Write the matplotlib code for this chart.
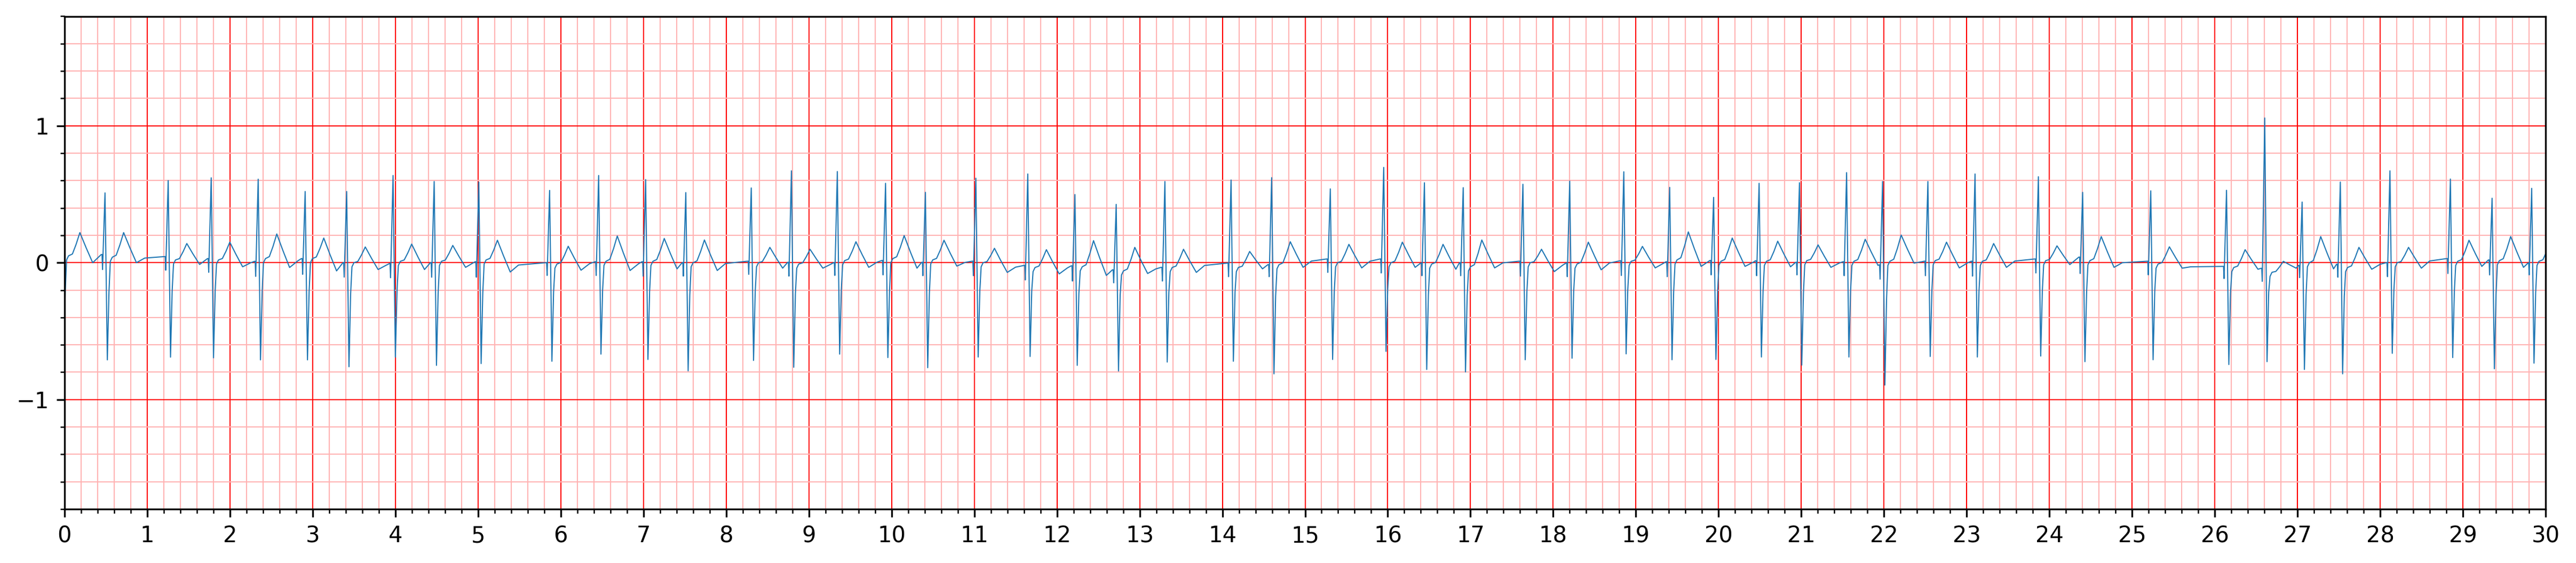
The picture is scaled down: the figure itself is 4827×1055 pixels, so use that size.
import matplotlib
matplotlib.use('Agg')
import matplotlib.pyplot as plt
import numpy as np
from matplotlib.ticker import AutoMinorLocator, MultipleLocator

# one entry per heartbeat (seconds / mV)
r_times = [-0.04, 0.489, 1.253, 1.773, 2.341, 2.909, 3.411, 3.972, 4.469, 5.009,
           5.865, 6.458, 7.026, 7.512, 8.303, 8.789, 9.344, 9.927, 10.409, 11.019,
           11.647, 12.217, 12.716, 13.305, 14.105, 14.596, 15.305, 15.951, 16.443, 16.912,
           17.634, 18.2, 18.854, 19.409, 19.94, 20.49, 20.978, 21.548, 21.983, 22.531,
           23.101, 23.867, 24.402, 25.226, 26.142, 26.604, 27.056, 27.518, 28.118, 28.849,
           29.353, 29.832]
r_amps = [0.5, 0.51, 0.60, 0.62, 0.61, 0.52, 0.52, 0.637, 0.593, 0.589,
          0.528, 0.637, 0.607, 0.512, 0.546, 0.671, 0.666, 0.58, 0.514, 0.617,
          0.648, 0.498, 0.426, 0.593, 0.604, 0.621, 0.539, 0.696, 0.584, 0.548,
          0.573, 0.596, 0.664, 0.55, 0.477, 0.58, 0.584, 0.658, 0.593, 0.593,
          0.648, 0.628, 0.514, 0.525, 0.529, 1.057, 0.443, 0.589, 0.671, 0.611,
          0.471, 0.543]
q_amps = [-0.05, -0.05, -0.055, -0.07, -0.10, -0.085, -0.105, -0.11, -0.106, -0.106,
          -0.093, -0.093, -0.098, -0.098, -0.085, -0.098, -0.093, -0.089, -0.095, -0.095,
          -0.126, -0.134, -0.147, -0.134, -0.102, -0.102, -0.071, -0.075, -0.095, -0.095,
          -0.098, -0.102, -0.093, -0.102, -0.089, -0.095, -0.089, -0.095, -0.12, -0.095,
          -0.098, -0.075, -0.079, -0.089, -0.116, -0.136, -0.109, -0.106, -0.102, -0.079,
          -0.089, -0.089]
s_amps = [-0.72, -0.71, -0.69, -0.695, -0.71, -0.71, -0.76, -0.69, -0.75, -0.737,
          -0.72, -0.668, -0.707, -0.79, -0.714, -0.764, -0.668, -0.693, -0.767, -0.689,
          -0.685, -0.75, -0.791, -0.726, -0.72, -0.812, -0.707, -0.648, -0.78, -0.798,
          -0.709, -0.698, -0.666, -0.709, -0.707, -0.689, -0.748, -0.689, -0.894, -0.685,
          -0.689, -0.682, -0.723, -0.709, -0.744, -0.723, -0.78, -0.812, -0.662, -0.693,
          -0.775, -0.734]
t_amps = [0.22, 0.22, 0.14, 0.15, 0.21, 0.18, 0.115, 0.136, 0.126, 0.164,
          0.12, 0.195, 0.177, 0.166, 0.112, 0.098, 0.153, 0.198, 0.164, 0.105,
          0.095, 0.161, 0.112, 0.098, 0.082, 0.153, 0.134, 0.15, 0.134, 0.166,
          0.098, 0.15, 0.119, 0.225, 0.18, 0.157, 0.13, 0.171, 0.202, 0.15,
          0.14, 0.123, 0.191, 0.116, 0.095, 0.01, 0.191, 0.112, 0.112, 0.164,
          0.191, 0.15]
st_levels = [0.05, 0.04, 0.02, 0.02, 0.03, 0.03, 0.0, 0.01, 0.01, 0.02,
             -0.01, 0.01, 0.01, 0.0, 0.0, -0.01, 0.015, 0.03, 0.02, 0.0,
             -0.035, -0.03, -0.06, -0.035, -0.035, -0.015, 0.0, 0.0, -0.01, -0.03,
             0.0, -0.01, 0.01, 0.02, 0.01, 0.01, 0.015, 0.01, 0.01, 0.015,
             0.01, 0.015, 0.015, -0.01, -0.035, -0.07, 0.0, -0.035, 0.0, 0.01,
             0.015, 0.01]
tend_levels = [0.0, 0.0, -0.013, -0.03, -0.035, -0.06, -0.05, -0.05, -0.034, -0.068,
               -0.055, -0.057, -0.045, -0.057, -0.04, -0.04, -0.034, -0.04, -0.025, -0.071,
               -0.082, -0.093, -0.079, -0.071, -0.045, -0.034, -0.038, -0.034, -0.048, -0.038,
               -0.065, -0.052, -0.038, -0.027, -0.027, -0.03, -0.034, -0.02, -0.003, -0.038,
               -0.034, -0.014, -0.034, -0.04, -0.048, -0.04, -0.045, -0.048, -0.04, -0.027,
               -0.034, -0.03]
pre_levels = [0.05, 0.06, 0.045, 0.03, 0.01, 0.03, 0.0, -0.007, 0.0, 0.007,
              0.0, 0.007, 0.007, 0.0, 0.011, 0.003, 0.0, 0.016, 0.003, 0.011,
              -0.02, -0.023, -0.052, -0.034, -0.003, -0.014, 0.027, 0.027, -0.003, 0.0,
              0.011, -0.003, 0.014, 0.007, 0.016, 0.014, 0.003, 0.007, -0.016, 0.011,
              0.011, 0.027, 0.041, 0.011, -0.027, -0.041, -0.02, -0.011, 0.0, 0.03,
              0.02, -0.003]

# build the trace beat by beat
xs, ys = [], []
for i, tr in enumerate(r_times):
    pre, q, r, s = pre_levels[i], q_amps[i], r_amps[i], s_amps[i]
    st, tw, te = st_levels[i], t_amps[i], tend_levels[i]
    pts = [(-0.045, pre), (-0.036, pre), (-0.030, q), (0.0, r), (0.028, s),
           (0.048, 0.3 * s), (0.064, st - 0.03), (0.088, st), (0.135, st + 0.08 * (tw - st)),
           (0.18, st + 0.5 * (tw - st)), (0.225, tw), (0.30, te + 0.5 * (tw - te)), (0.38, te)]
    for dt, v in pts:
        xs.append(tr + dt)
        ys.append(v)
    if i + 1 < len(r_times):
        nxt = r_times[i + 1] - 0.045
        if tr + 0.48 < nxt - 0.02:
            xs.append(tr + 0.48)
            ys.append(te + 0.75 * (pre_levels[i + 1] - te))

xs = np.array(xs)
ys = np.array(ys)
seconds = 30

fig = plt.figure(figsize=(4827 / 300, 1055 / 300), dpi=300)
ax = fig.add_axes([121 / 4827, 1 - 954 / 1055, (4770 - 121) / 4827, (954 - 30.5) / 1055])

ax.set_xticks(np.arange(0, seconds + 1, 1))
ax.set_yticks(np.arange(-1, 2, 1.0))
ax.minorticks_on()
ax.xaxis.set_minor_locator(AutoMinorLocator(5))
ax.yaxis.set_minor_locator(MultipleLocator(0.2))
ax.set_ylim(-1.8, 1.8)
ax.set_xlim(0, seconds)

ax.grid(which='major', linestyle='-', linewidth=0.5, color='red')
ax.grid(which='minor', linestyle='-', linewidth=0.5, color=(1, 0.7, 0.7))
ax.set_axisbelow(True)

ax.plot(xs, ys, linewidth=0.5)

fig.savefig('out.png', dpi=300)
